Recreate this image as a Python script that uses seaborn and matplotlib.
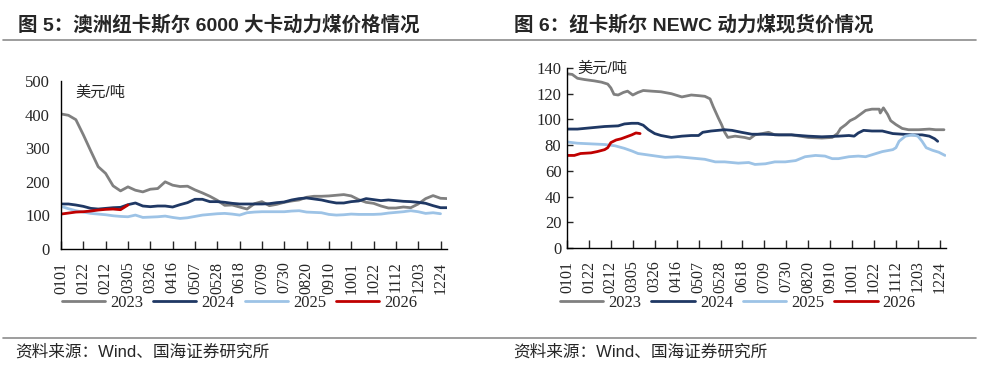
import pandas as pd
import matplotlib
matplotlib.use("Agg")
import matplotlib.pyplot as plt
from matplotlib.lines import Line2D
import seaborn as sns

years = ["2023", "2024", "2025", "2026"]
colors = {"2023": "#808080", "2024": "#1f3864", "2025": "#9dc3e6", "2026": "#c00000"}
tick_labels = ["0101", "0122", "0212", "0305", "0326", "0416", "0507", "0528", "0618",
               "0709", "0730", "0820", "0910", "1001", "1022", "1112", "1203", "1224"]

# fig 5: Newcastle 6000 kcal, weekly from 0101 (USD/t)
aus_2023 = [402, 398, 385, 340, 292, 245, 225, 188, 173, 185, 175, 170, 178, 180, 200, 190,
            186, 187, 176, 167, 157, 145, 130, 131, 125, 119, 135, 141, 129, 133, 139, 143,
            146, 154, 157, 157, 158, 160, 162, 158, 147, 139, 136, 128, 122, 122, 125, 123,
            134, 150, 159, 151, 150]
aus_2024 = [134, 134, 131, 127, 121, 119, 121, 123, 124, 132, 137, 128, 126, 128, 128, 125,
            132, 138, 148, 148, 141, 141, 139, 136, 134, 134, 134, 134, 135, 138, 140, 146,
            150, 152, 149, 146, 141, 137, 137, 141, 143, 150, 147, 144, 146, 144, 142, 141,
            139, 136, 129, 123, 123]
aus_2025 = [127, 120, 114, 110, 106, 104, 102, 99, 97, 96, 101, 94, 95, 96, 98, 94,
            91, 93, 97, 101, 103, 105, 106, 104, 101, 108, 110, 111, 111, 111, 111, 113,
            114, 110, 109, 108, 103, 101, 102, 104, 103, 103, 103, 104, 107, 109, 111, 114,
            111, 106, 108, 105]
aus_2026 = [104, 107, 110, 111, 113, 116, 118, 119, 117, 131]

# fig 6: NEWC spot (USD/t), dates as MMDD
newc_2023_d = ["0101", "0106", "0111", "0118", "0127", "0203", "0209", "0212", "0215", "0219",
               "0224", "0228", "0305", "0310", "0315", "0323", "0401", "0411", "0421", "0430",
               "0507", "0513", "0518", "0521", "0526", "0529", "0601", "0604", "0611", "0620",
               "0625", "0630", "0707", "0713", "0719", "0804", "0820", "0902", "0912", "0917",
               "0920", "0925", "0929", "1004", "1009", "1014", "1020", "1027", "1028", "1031",
               "1104", "1107", "1112", "1118", "1124", "1204", "1214", "1220", "1228"]
newc_2023 = [135.5, 135, 132, 131, 130, 129, 127.5, 124.5, 119.5, 119,
             121, 122, 119, 121, 122.5, 122, 121.5, 120, 117.5, 119,
             118.5, 118, 116, 110, 101, 96, 90, 86, 87, 86,
             85, 88, 89, 90, 88, 88, 86, 85.5, 86, 89,
             93, 96, 99, 101, 104, 107, 108, 108, 105, 109,
             104, 99, 96, 93, 92, 92, 92.5, 92, 92]
newc_2024_d = ["0101", "0111", "0124", "0206", "0219", "0225", "0304", "0310", "0315", "0320",
               "0326", "0401", "0411", "0421", "0430", "0507", "0511", "0519", "0601", "0608",
               "0617", "0627", "0710", "0723", "0804", "0820", "0902", "0918", "0928", "1003",
               "1007", "1012", "1020", "1030", "1109", "1118", "1128", "1207", "1214", "1219",
               "1222"]
newc_2024 = [92.5, 92.5, 93.5, 94.5, 95, 96.5, 97, 97, 95.5, 92,
             89, 87.5, 86, 87, 87.5, 87.5, 90, 91, 92, 91.5,
             90, 88.5, 88.5, 88, 88, 87, 86.5, 87, 87.5, 87,
             89.5, 91.5, 91, 91, 89, 88.5, 88, 88, 87, 85,
             83]
newc_2025_d = ["0101", "0111", "0124", "0206", "0216", "0225", "0304", "0310", "0323", "0405",
               "0417", "0430", "0513", "0523", "0601", "0614", "0624", "0630", "0710", "0719",
               "0729", "0808", "0817", "0827", "0905", "0912", "0918", "0928", "1007", "1014",
               "1020", "1030", "1109", "1112", "1115", "1121", "1128", "1203", "1207", "1211",
               "1217", "1223", "1229"]
newc_2025 = [82.5, 81.5, 81, 80.5, 79.5, 77.5, 75.5, 73.5, 72, 70.5,
             71, 70, 69, 67, 67, 66, 66.5, 65, 65.5, 67,
             67, 68, 71, 72, 71.5, 69.5, 69.5, 71, 71.5, 71,
             72.5, 75, 76.5, 78, 83, 87, 88, 87, 83, 78,
             76, 74.5, 72]
newc_2026_d = ["0101", "0108", "0114", "0124", "0130", "0206", "0209", "0212", "0217", "0222",
               "0227", "0304", "0308", "0312"]
newc_2026 = [72, 72, 73.5, 74, 75, 76.5, 78, 82, 84, 85, 86.5, 88, 89.5, 89]


def weekly(vals, year):
    dates = pd.date_range("2023-01-01", periods=len(vals), freq="7D")
    return pd.DataFrame({"date": dates, "price": vals, "year": year})


def dated(mmdd, vals, year):
    dates = pd.to_datetime(["2023" + d for d in mmdd], format="%Y%m%d")
    return pd.DataFrame({"date": dates, "price": vals, "year": year})


aus = pd.concat([weekly(aus_2023, "2023"), weekly(aus_2024, "2024"),
                 weekly(aus_2025, "2025"), weekly(aus_2026, "2026")])
newc = pd.concat([dated(newc_2023_d, newc_2023, "2023"), dated(newc_2024_d, newc_2024, "2024"),
                  dated(newc_2025_d, newc_2025, "2025"), dated(newc_2026_d, newc_2026, "2026")])

sns.set_style("ticks")
plt.rcParams["font.family"] = ["Liberation Serif", "Noto Sans CJK SC"]
cjk = ["Liberation Sans", "Noto Sans CJK SC"]

fig = plt.figure(figsize=(9.82, 3.72), dpi=100)
ax1 = fig.add_axes([0.0621, 0.3306, 0.393, 0.4516])
ax2 = fig.add_axes([0.5774, 0.3333, 0.386, 0.4839])

tick_dates = pd.to_datetime(["2023" + t for t in tick_labels], format="%Y%m%d")

for ax, df, ymax, ystep, legx in [(ax1, aus, 500, 100, 0.244), (ax2, newc, 140, 20, 0.7515)]:
    sns.lineplot(data=df, x="date", y="price", hue="year", hue_order=years,
                 palette=colors, linewidth=2, estimator=None, ax=ax)
    ax.set_xlim(pd.Timestamp("2023-01-01"), pd.Timestamp("2023-12-30"))
    ax.set_ylim(0, ymax)
    ax.set_yticks(range(0, ymax + 1, ystep))
    ax.set_xticks(tick_dates)
    ax.set_xticklabels(tick_labels, rotation=90)
    ax.set_xlabel("")
    ax.set_ylabel("")
    sns.despine(ax=ax)
    for s in ["left", "bottom"]:
        ax.spines[s].set_color("black")
        ax.spines[s].set_linewidth(1)
    ax.tick_params(axis="x", direction="in", length=6, width=1, pad=9, labelsize=11.5)
    ax.tick_params(axis="y", labelsize=12)
    sns.move_legend(ax, "center", bbox_to_anchor=(legx, 0.1855), bbox_transform=fig.transFigure,
                    ncol=4, frameon=False, title=None, fontsize=12, handlelength=2.6,
                    handletextpad=0.3, columnspacing=0.6)

ax1.tick_params(axis="y", length=0, pad=8)
ax2.tick_params(axis="y", direction="in", length=4, width=1, pad=4)

fig.text(0.0764, 0.75, "美元/吨", fontsize=11, family=cjk, va="center")
fig.text(0.5876, 0.8145, "美元/吨", fontsize=11, family=cjk, va="center")

fig.text(0.0183, 0.933, "图 5：澳洲纽卡斯尔 6000 大卡动力煤价格情况", fontsize=14,
         fontweight="bold", family=cjk, va="center")
fig.text(0.5234, 0.933, "图 6：纽卡斯尔 NEWC 动力煤现货价情况", fontsize=14,
         fontweight="bold", family=cjk, va="center")
fig.text(0.0153, 0.0538, "资料来源：Wind、国海证券研究所", fontsize=12, family=cjk, va="center")
fig.text(0.5224, 0.0538, "资料来源：Wind、国海证券研究所", fontsize=12, family=cjk, va="center")

for y in [0.8925, 0.0914]:
    fig.add_artist(Line2D([0.003, 0.994], [y, y], transform=fig.transFigure,
                          color="#8c8c8c", linewidth=1.2))

fig.savefig("out.png", dpi=100)
